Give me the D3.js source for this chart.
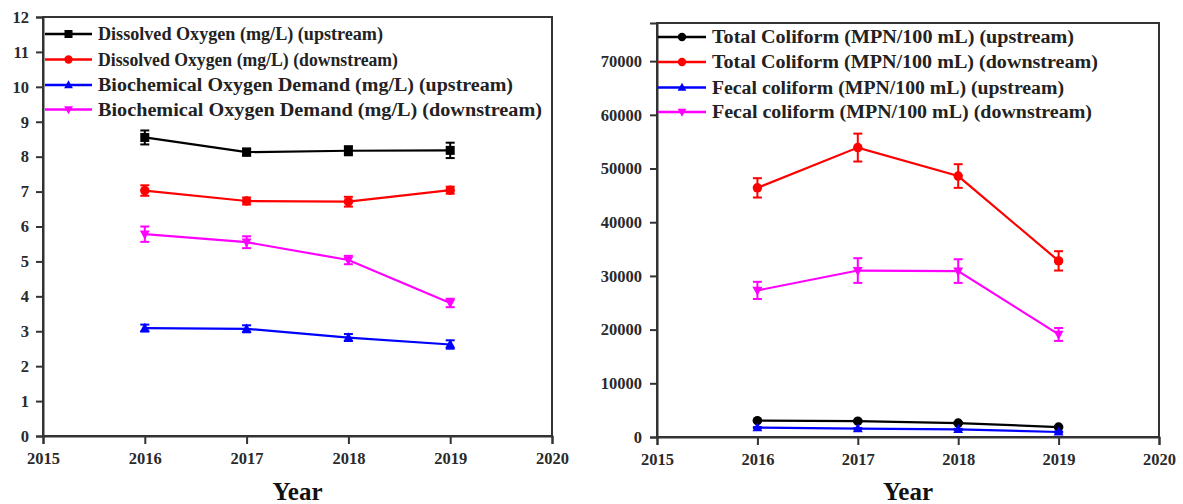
<!DOCTYPE html>
<html><head><meta charset="utf-8">
<script src="https://cdn.jsdelivr.net/npm/d3@7"></script>
<style>
html,body{margin:0;padding:0;background:#fff;}
svg{display:block;font-family:"Liberation Serif","Times New Roman",serif;}
svg .tick text{font-size:16.5px !important;font-weight:bold;font-family:"Liberation Serif",serif !important;fill:#2a2a2a;}
</style></head><body>
<svg id="c" width="1183" height="504"></svg>
<script>
const years = [2016, 2017, 2018, 2019];
const xTicks = [2015, 2016, 2017, 2018, 2019, 2020];

// Left panel
const leftNames = ["Dissolved Oxygen (mg/L) (upstream)", "Dissolved Oxygen (mg/L) (downstream)",
  "Biochemical Oxygen Demand (mg/L) (upstream)", "Biochemical Oxygen Demand (mg/L) (downstream)"];
const doUp = [8.55, 8.13, 8.17, 8.18];
const doUpErr = [0.2, 0.1, 0.13, 0.22];
const doDown = [7.03, 6.73, 6.71, 7.04];
const doDownErr = [0.15, 0.1, 0.14, 0.1];
const bodUp = [3.09, 3.07, 2.82, 2.62];
const bodUpErr = [0.1, 0.1, 0.1, 0.12];
const bodDown = [5.78, 5.55, 5.04, 3.81];
const bodDownErr = [0.22, 0.17, 0.12, 0.12];
const leftYTicks = [0,1,2,3,4,5,6,7,8,9,10,11,12];

// Right panel
const rightNames = ["Total Coliform (MPN/100 mL) (upstream)", "Total Coliform (MPN/100 mL) (downstream)",
  "Fecal coliform (MPN/100 mL) (upstream)", "Fecal coliform (MPN/100 mL) (downstream)"];
const tcUp = [3050, 2950, 2600, 1850];
const tcUpErr = [150, 150, 150, 120];
const tcDown = [46400, 53900, 48600, 32800];
const tcDownErr = [1800, 2600, 2200, 1800];
const fcUp = [1750, 1560, 1420, 930];
const fcUpErr = [100, 100, 100, 80];
const fcDown = [27300, 31000, 30900, 19100];
const fcDownErr = [1600, 2300, 2200, 1200];
const rightYTicks = [0,10000,20000,30000,40000,50000,60000,70000];

const colors = ["#000000", "#ff0000", "#0000ff", "#ff00ff"];
const leftShapes = ["square", "circle", "triUp", "triDown"];
const rightShapes = ["circle", "circle", "triUp", "triDown"];

const svg = d3.select("#c");

function marker(g, shape, x, y, color, s) {
  if (shape === "square") {
    g.append("rect").attr("x", x - s).attr("y", y - s).attr("width", 2*s).attr("height", 2*s).attr("fill", color);
  } else if (shape === "circle") {
    g.append("circle").attr("cx", x).attr("cy", y).attr("r", s*1.05).attr("fill", color);
  } else if (shape === "triUp") {
    g.append("path").attr("d", `M${x},${y-s*1.2}L${x+s*1.1},${y+s*0.8}L${x-s*1.1},${y+s*0.8}Z`).attr("fill", color);
  } else {
    g.append("path").attr("d", `M${x},${y+s*1.2}L${x+s*1.1},${y-s*0.8}L${x-s*1.1},${y-s*0.8}Z`).attr("fill", color);
  }
}

function panel(cfg) {
  const x = d3.scaleLinear().domain([2015, 2020]).range([cfg.x0, cfg.x1]);
  const y = d3.scaleLinear().domain([0, cfg.ymax]).range([cfg.y1, cfg.y0]);
  const g = svg.append("g");

  // frame
  g.append("rect").attr("x", cfg.x0).attr("y", cfg.y0).attr("width", cfg.x1 - cfg.x0).attr("height", cfg.y1 - cfg.y0)
    .attr("fill", "none").attr("stroke", "#333").attr("stroke-width", 2);

  const xa = g.append("g").attr("transform", `translate(0,${cfg.y1})`)
    .call(d3.axisBottom(x).tickValues(xTicks).tickFormat(d3.format("d")).tickSize(8).tickPadding(8));
  const ya = g.append("g").attr("transform", `translate(${cfg.x0},0)`)
    .call(d3.axisLeft(y).tickValues(cfg.yTicks).tickFormat(d3.format("d")).tickSize(7).tickPadding(cfg.yPad));
  [xa, ya].forEach(a => {
    a.attr("font-size", 16.5).attr("font-family", "'Liberation Serif', serif");
    a.select(".domain").attr("stroke", "#333").attr("stroke-width", 2);
    a.selectAll(".tick line").attr("stroke", "#333").attr("stroke-width", 2);
  });

  g.append("text").attr("x", (cfg.x0 + cfg.x1) / 2).attr("y", 500).attr("text-anchor", "middle")
    .attr("font-size", 25).attr("font-weight", "bold").attr("fill", "#111").text("Year");

  cfg.series.forEach((s, i) => {
    const c = colors[i];
    const sg = g.append("g");
    const line = d3.line().x((d, j) => x(years[j])).y(d => y(d));
    sg.append("path").datum(s.v).attr("d", line).attr("fill", "none").attr("stroke", c).attr("stroke-width", 2.2);
    s.v.forEach((v, j) => {
      const px = x(years[j]);
      const e = s.e[j];
      const yt = y(v + e), yb = y(v - e);
      sg.append("line").attr("x1", px).attr("x2", px).attr("y1", yt).attr("y2", yb).attr("stroke", c).attr("stroke-width", 2);
      sg.append("line").attr("x1", px - 4.5).attr("x2", px + 4.5).attr("y1", yt).attr("y2", yt).attr("stroke", c).attr("stroke-width", 2);
      sg.append("line").attr("x1", px - 4.5).attr("x2", px + 4.5).attr("y1", yb).attr("y2", yb).attr("stroke", c).attr("stroke-width", 2);
      marker(sg, cfg.shapes[i], px, y(v), c, 4.5);
    });
  });

  // legend
  cfg.names.forEach((n, i) => {
    const ly = cfg.legY[i];
    g.append("line").attr("x1", cfg.legX0).attr("x2", cfg.legX1).attr("y1", ly).attr("y2", ly)
      .attr("stroke", colors[i]).attr("stroke-width", 2.5);
    marker(g, cfg.shapes[i], (cfg.legX0 + cfg.legX1) / 2, ly, colors[i], 4);
    g.append("text").attr("x", cfg.legX1 + 6).attr("y", ly).attr("dy", "0.35em")
      .attr("font-size", cfg.legFont).attr("font-weight", "bold").attr("fill", "#222")
      .attr("textLength", cfg.legW[i]).attr("lengthAdjust", "spacingAndGlyphs").text(n);
  });
}

panel({
  x0: 43, x1: 552, y0: 17, y1: 436, ymax: 12, yTicks: leftYTicks, yPad: 7,
  series: [{v: doUp, e: doUpErr}, {v: doDown, e: doDownErr}, {v: bodUp, e: bodUpErr}, {v: bodDown, e: bodDownErr}],
  shapes: leftShapes, names: leftNames,
  legX0: 45, legX1: 92, legY: [34, 59.5, 85, 109.5], legFont: 18,
  legW: [285, 300, 415, 444]
});

panel({
  x0: 657, x1: 1159, y0: 23, y1: 437, ymax: 77100, yTicks: rightYTicks, yPad: 8,
  series: [{v: tcUp, e: tcUpErr}, {v: tcDown, e: tcDownErr}, {v: fcUp, e: fcUpErr}, {v: fcDown, e: fcDownErr}],
  shapes: rightShapes, names: rightNames,
  legX0: 658, legX1: 706, legY: [37, 62, 87.5, 112], legFont: 18,
  legW: [362, 386, 352, 380]
});
</script>
</body></html>
